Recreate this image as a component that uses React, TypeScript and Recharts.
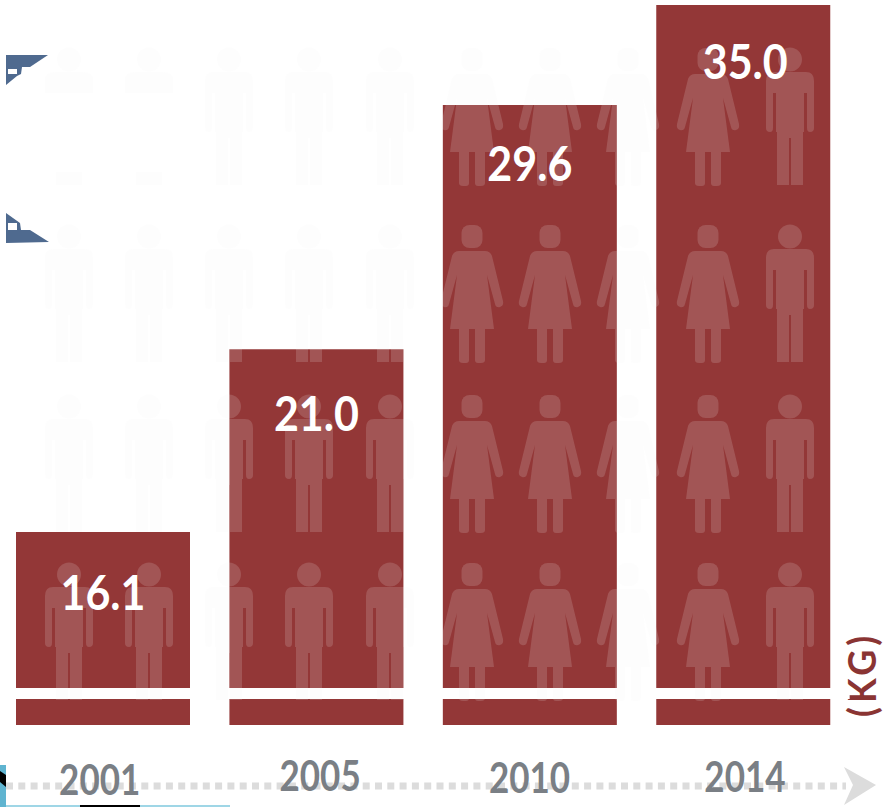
import { BarChart, Bar, XAxis, YAxis, ReferenceLine, LabelList } from "recharts"

const years = ["2001", "2005", "2010", "2014"]
const weights = [16.1, 21.0, 29.6, 35.0]
const chartData = years.map((year, i) => ({ year, weight: weights[i] }))

// the source picture is not drawn to a linear scale, so these stops follow its bar heights
const scaleValues = [0, 16.1, 21.0, 29.6, 35.0]
const scaleFractions = [0, 0.268, 0.522, 0.861, 1]

const BAR_COLOR = "#933737"
const PERSON_FILL = "rgb(243,243,243)"
const PERSON_ALPHA = 0.16

const manColumns = [69, 149, 229, 309, 390, 790]
const womanColumns = [472, 550, 628, 708]
const rowTops = [48, 225, 395, 563]

const yearNudge = [
  { dx: -3, dy: 4 },
  { dx: 4, dy: 0 },
  { dx: 0, dy: 2 },
  { dx: 2, dy: 1 },
]
const labelNudge = [
  { dx: 0, dy: 62 },
  { dx: 0, dy: 66 },
  { dx: 0, dy: 60 },
  { dx: 2, dy: 58 },
]

function makeStopScale(dom: number[] = [0, 35], rng: number[] = [0, 1]) {
  const scale: any = (v: number) => {
    let i = 0
    while (i < scaleValues.length - 2 && v > scaleValues[i + 1]) i++
    const t = (v - scaleValues[i]) / (scaleValues[i + 1] - scaleValues[i])
    const f = scaleFractions[i] + t * (scaleFractions[i + 1] - scaleFractions[i])
    return rng[0] + f * (rng[1] - rng[0])
  }
  scale.domain = (d?: number[]) => (d ? makeStopScale(d, rng) : dom)
  scale.range = (r?: number[]) => (r ? makeStopScale(dom, r) : rng)
  scale.copy = () => makeStopScale(dom, rng)
  scale.ticks = () => scaleValues
  return scale
}

function Man({ cx, top }: { cx: number; top: number }) {
  return (
    <g transform={`translate(${cx},${top})`}>
      <ellipse cx={0} cy={11.5} rx={12} ry={12} />
      <path d="M-16,24 H16 Q24,24 24,33 V80 Q24,84 20,84 Q17,84 17,80 V45 H14 V84 H13 V137 H1 V90 H-1 V137 H-13 V84 H-14 V45 H-17 V80 Q-17,84 -20,84 Q-24,84 -24,80 V33 Q-24,24 -16,24 Z" />
    </g>
  )
}

function Woman({ cx, top }: { cx: number; top: number }) {
  return (
    <g transform={`translate(${cx},${top})`}>
      <rect x={-10.5} y={0} width={21} height={23} rx={8} />
      <path d="M-13,26 H13 Q18,26 20,31 L31,76 Q32,81 28,82 Q24,83 23,79 L15,50 L22,104 H13 V135 Q13,138 9,138 H6 Q3,138 3,135 V104 H-3 V135 Q-3,138 -6,138 H-9 Q-13,138 -13,135 V104 H-22 L-15,50 L-23,79 Q-24,83 -28,82 Q-32,81 -31,76 L-20,31 Q-18,26 -13,26 Z" />
    </g>
  )
}

// faint figures sit over the bars: one fill works on both the white page and the red
function People() {
  return (
    <g fill={PERSON_FILL} fillOpacity={PERSON_ALPHA}>
      {rowTops.map((top) => (
        <g key={top}>
          {manColumns.map((cx) =>
            top === rowTops[0] && cx < 200 ? (
              <g key={cx}>
                <path d={`M${cx - 24},93 V80 Q${cx - 24},72 ${cx - 14},72 H${cx + 14} Q${cx + 24},72 ${cx + 24},80 V93 Z`} />
                <ellipse cx={cx} cy={59.5} rx={12} ry={12} />
                <rect x={cx - 13} y={172} width={26} height={13} />
              </g>
            ) : (
              <Man key={cx} cx={cx} top={top} />
            ),
          )}
          {womanColumns.map((cx) => (
            <Woman key={cx} cx={cx} top={top} />
          ))}
        </g>
      ))}
    </g>
  )
}

function Extras() {
  return (
    <g>
      {/* dotted timeline and arrow */}
      <line x1={6} y1={786} x2={846} y2={786} stroke="#dcdcdc" strokeWidth={7} strokeDasharray="7 5.3" />
      <polygon points="844,767 876,785 844,805 853,785" fill="#dcdcdc" />
      {/* cropped leftovers along the picture edges */}
      <polygon points="6,55 48,55 30,67 22,67 21,74 17,76 6,85" fill="#4f6a8f" />
      <rect x={8} y={69} width={9} height={5} fill="#fff" />
      <polygon points="6,213 20,223 21,230 30,230 49,242 6,243" fill="#4f6a8f" />
      <rect x={8} y={223} width={9} height={7} fill="#fff" />
      <rect x={0} y={765} width={6} height={42} fill="#5fb4d0" />
      <polygon points="0,771 6,775 6,787 0,782" fill="#000" />
      <rect x={6} y={805} width={224} height={2} fill="#9fd6e6" />
      <rect x={80} y={805} width={60} height={2} fill="#000" />
      <text
        transform="translate(876,717) rotate(-90) scale(1,1.05)"
        fontFamily="Lato"
        fontWeight={700}
        fontSize={36}
        letterSpacing={4}
        fill="#8a3433"
      >
        (KG)
      </text>
    </g>
  )
}

function YearTick({ x, index, payload }: any) {
  const nudge = yearNudge[index]
  return (
    <text
      transform={`translate(${x + nudge.dx},${791 + nudge.dy}) scale(1,1.18)`}
      textAnchor="middle"
      fontFamily="Lato"
      fontWeight={700}
      fontSize={35}
      fill="#7a7f85"
    >
      {payload.value}
    </text>
  )
}

function WeightLabel({ x, y, width, value, index }: any) {
  const nudge = labelNudge[index]
  return (
    <text
      transform={`translate(${x + width / 2 + nudge.dx},${y + nudge.dy + 16}) scale(1,1.12)`}
      textAnchor="middle"
      fontFamily="Lato"
      fontWeight={700}
      fontSize={43}
      fill="#ffffff"
    >
      {Number(value).toFixed(1)}
    </text>
  )
}

// a label layer paints above the bars and the stripe, so the figures go in through one
function PeopleLayer({ index }: any) {
  return index === 0 ? <People /> : null
}

export default function App() {
  return (
    <div style={{ position: "absolute", left: 0, top: 0, width: 884, height: 807 }}>
      <BarChart
        width={884}
        height={807}
        data={chartData}
        margin={{ top: 5, right: 34.33, bottom: 0, left: -4 }}
        barSize={174}
      >
        <XAxis dataKey="year" height={82} axisLine={false} tickLine={false} tick={YearTick} interval={0} />
        <YAxis hide domain={[0, 35]} scale={makeStopScale()} type="number" />
        <Extras />
        <Bar dataKey="weight" fill={BAR_COLOR} isAnimationActive={false}>
          <LabelList dataKey="weight" content={PeopleLayer} />
          <LabelList dataKey="weight" content={WeightLabel} />
        </Bar>
        <ReferenceLine y={2.63} stroke="#ffffff" strokeWidth={11} />
      </BarChart>
    </div>
  )
}
